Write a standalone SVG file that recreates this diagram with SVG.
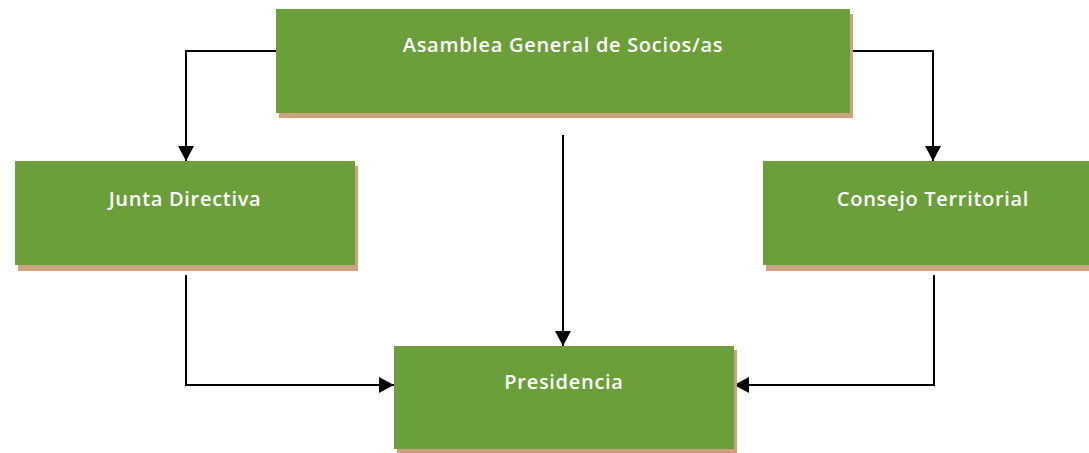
<svg xmlns="http://www.w3.org/2000/svg" width="1089" height="453" viewBox="0 0 1089 453">
<style>
.box{fill:#6A9F39}
.shadow{fill:#CBA280}
.lbl{fill:#FFFFFF;font-family:"Open Sans",Lato,"Liberation Sans",sans-serif;font-weight:600;font-size:20px;letter-spacing:0.7px;text-anchor:middle}
.conn{fill:none;stroke:#000;stroke-width:2}
</style>
<defs>
<marker id="arr" markerUnits="userSpaceOnUse" markerWidth="15" markerHeight="16" refX="15" refY="8" orient="auto" viewBox="0 0 15 16">
<path d="M0,0 L15,8 L0,16 z" fill="#000"/>
</marker>
</defs>
<rect width="1089" height="453" fill="#FFFFFF"/>
<g id="connectors">
<path class="conn" d="M276,51 H186 V161" marker-end="url(#arr)"/>
<path class="conn" d="M850,51 H933 V161" marker-end="url(#arr)"/>
<path class="conn" d="M563,135 V346" marker-end="url(#arr)"/>
<path class="conn" d="M186,275 V385 H394" marker-end="url(#arr)"/>
<path class="conn" d="M934,275 V385 H734" marker-end="url(#arr)"/>
</g>
<g id="asamblea">
<rect class="shadow" x="279" y="14" width="574" height="104"/>
<rect class="box" x="276" y="9" width="574" height="104"/>
<text class="lbl" x="563" y="52">Asamblea General de Socios/as</text>
</g>
<g id="junta">
<rect class="shadow" x="18" y="166" width="340" height="105"/>
<rect class="box" x="15" y="161" width="340" height="104"/>
<text class="lbl" x="185" y="206">Junta Directiva</text>
</g>
<g id="consejo">
<rect class="shadow" x="766" y="166" width="340" height="105"/>
<rect class="box" x="763" y="161" width="340" height="104"/>
<text class="lbl" x="933" y="206">Consejo Territorial</text>
</g>
<g id="presidencia">
<rect class="shadow" x="397" y="350" width="340" height="103"/>
<rect class="box" x="394" y="346" width="340" height="103"/>
<text class="lbl" x="564" y="389">Presidencia</text>
</g>
</svg>
